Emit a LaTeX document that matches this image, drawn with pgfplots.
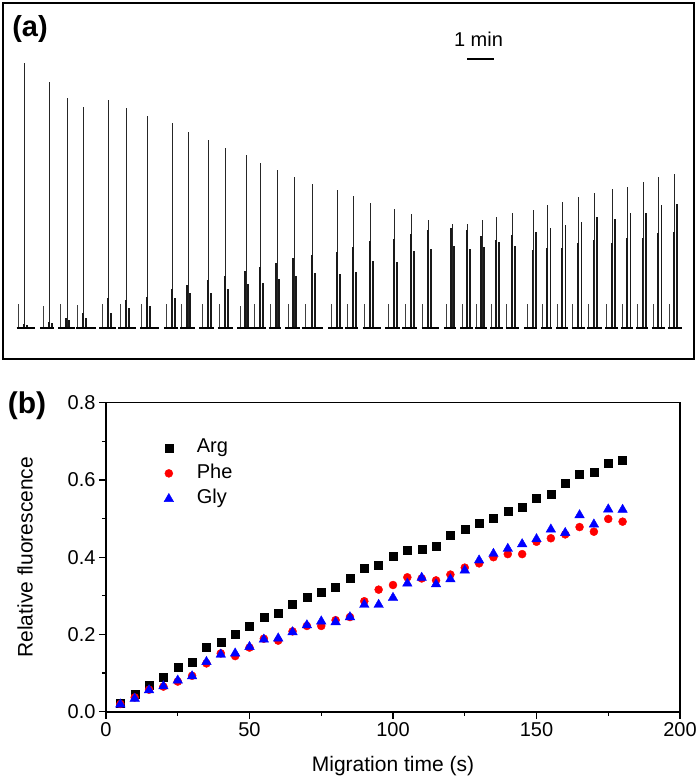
\documentclass[border=0pt]{standalone}
\usepackage{fontspec}
\setmainfont{Liberation Sans}
\usepackage{pgfplots}
\usepackage{pgfplotstable}
\pgfplotsset{compat=1.18}

% panel (a): one row per run (pixel-like units, heights above baseline)
\pgfplotstableread{
xs hs xt ht xa ha xb hb
18.7 24 24.3 265 23.6 4 26.6 3
43.0 22 49.3 246 48.6 6 51.6 5
60.7 24 67.0 230 66.3 10 69.3 8
77.7 23 83.7 221 83.0 15 86.0 10
102.7 24 108.3 228 107.6 30 110.6 15
120.7 24 126.3 220 125.6 28 128.6 20
141.7 24 147.7 212 147.0 31 150.0 22
166.3 24 172.7 205 172.0 39 175.0 30
181.7 24 188.0 196 187.3 43 190.3 35
202.0 24 208.7 188 208.0 48 211.0 35
219.7 24 225.7 180 225.0 52 228.0 39
240.3 22 246.0 173 245.3 57 248.3 44
254.3 24 260.3 165 259.6 61 262.6 45
270.7 24 277.0 158 276.3 65 279.3 49
288.0 24 294.0 151 293.3 70 296.3 52
305.0 24 312.7 144 312.0 73 315.0 55
331.0 24 337.3 138 336.6 76 339.6 54
347.7 24 353.7 132 353.0 81 356.0 56
364.3 24 370.3 125 369.6 87 372.6 67
388.3 24 394.3 119 393.6 89 396.6 66
405.3 24 411.7 114 411.0 94 414.0 77
422.7 24 428.7 108 428.0 98 431.0 79
446.7 24 452.0 104 451.3 100 454.3 82
462.3 24 467.7 104 467.0 98 470.0 79
476.7 24 482.0 108 481.3 92 484.3 81
491.3 24 496.7 111 496.0 88 499.0 86
506.7 24 512.7 115 512.0 93 515.0 82
527.7 24 533.0 118 532.5 78 535.7 96
542.3 24 547.7 123 547.2 80 550.4 100
557.3 24 562.7 126 562.2 80 565.4 103
572.7 24 578.7 131 578.2 85 581.4 106
588.7 24 594.0 135 593.5 88 596.7 111
606.7 24 612.3 139 611.8 85 615.0 109
622.3 24 627.7 141 627.2 90 630.4 115
637.3 24 643.0 146 642.5 90 645.7 115
653.0 24 658.7 151 658.2 95 661.4 123
669.0 24 674.3 154 673.8 96 677.0 124
}\runs

\pgfplotstableread{
t arg phe gly
5 0.022 0.020 0.019
10 0.045 0.037 0.034
15 0.068 0.057 0.056
20 0.090 0.065 0.066
25 0.115 0.078 0.081
30 0.129 0.093 0.092
35 0.167 0.125 0.129
40 0.180 0.151 0.148
45 0.200 0.144 0.151
50 0.222 0.166 0.168
55 0.245 0.189 0.187
60 0.254 0.184 0.190
65 0.278 0.208 0.206
70 0.297 0.222 0.224
75 0.310 0.222 0.234
80 0.322 0.237 0.232
85 0.346 0.245 0.245
90 0.372 0.286 0.277
95 0.378 0.316 0.277
100 0.402 0.328 0.295
105 0.417 0.348 0.332
110 0.420 0.345 0.347
115 0.429 0.340 0.330
120 0.456 0.355 0.343
125 0.472 0.373 0.366
130 0.488 0.384 0.392
135 0.502 0.400 0.409
140 0.519 0.408 0.422
145 0.529 0.408 0.434
150 0.553 0.440 0.447
155 0.562 0.449 0.472
160 0.591 0.459 0.463
165 0.616 0.478 0.509
170 0.620 0.466 0.485
175 0.644 0.499 0.524
180 0.651 0.492 0.523
}\fluo

\begin{document}
\begin{tikzpicture}
\useasboundingbox (0,0) rectangle (700bp,779bp);

% ---------------- panel (a)
\begin{axis}[
  at={(3bp,420bp)}, anchor=south west, scale only axis,
  width=691bp, height=356bp,
  xmin=3, xmax=694, ymin=-31, ymax=325,
  xtick=\empty, ytick=\empty,
  axis line style={line width=1.8bp},
]
\addplot[ycomb, no marks, line width=0.9bp, black!75] table[x=xs, y=hs] {\runs};
\addplot[ycomb, no marks, line width=1.0bp, black!85] table[x=xt, y=ht] {\runs};
\addplot[ycomb, no marks, line width=1.8bp, black!90] table[x=xa, y=ha] {\runs};
\addplot[ycomb, no marks, line width=1.8bp, black!90] table[x=xb, y=hb] {\runs};
\addplot[no marks, line width=2.6bp, black, unbounded coords=jump] coordinates {
(16.7,0)(35,0)(36,nan)
(40,0)(54.3,0)(55,nan)
(58.3,0)(75,0)(76,nan)
(76,0)(96,0)(97,nan)
(99.3,0)(116,0)(117,nan)
(118.3,0)(136,0)(137,nan)
(140,0)(159.3,0)(160,nan)
(164,0)(178.3,0)(179,nan)
(180,0)(195,0)(196,nan)
(199.3,0)(214.3,0)(215,nan)
(217.7,0)(233.3,0)(234,nan)
(237.3,0)(255.3,0)(256,nan)
(252.3,0)(265.7,0)(266,nan)
(268.7,0)(281.3,0)(282,nan)
(285,0)(300,0)(301,nan)
(301.7,0)(323.3,0)(324,nan)
(328,0)(342.7,0)(343,nan)
(345,0)(358.3,0)(359,nan)
(362.7,0)(381,0)(382,nan)
(385,0)(400,0)(401,nan)
(402.3,0)(417.3,0)(418,nan)
(421.7,0)(439.3,0)(440,nan)
(444,0)(456,0)(457,nan)
(460,0)(472.7,0)(473,nan)
(475,0)(486.7,0)(487,nan)
(490,0)(502.7,0)(503,nan)
(505.7,0)(519.3,0)(520,nan)
(524,0)(537.3,0)(538,nan)
(540.7,0)(552.3,0)(553,nan)
(556,0)(568.3,0)(569,nan)
(571.7,0)(585,0)(586,nan)
(587.3,0)(601.7,0)(602,nan)
(605,0)(617.7,0)(618,nan)
(620.7,0)(633.3,0)(634,nan)
(636,0)(648.3,0)(649,nan)
(651.7,0)(665,0)(666,nan)
(667.7,0)(682.3,0)
};
% 1 min scale bar
\addplot[no marks, line width=2bp, black] coordinates {(467,269) (494,269)};
\end{axis}

\node[font=\bfseries\fontsize{29bp}{32bp}\selectfont] at (30bp,750bp) {(a)};
\node[font=\fontsize{20bp}{24bp}\selectfont] at (478.5bp,740bp) {1 min};

% ---------------- panel (b)
\begin{axis}[
  at={(106bp,67.3bp)}, anchor=south west, scale only axis,
  width=574bp, height=309bp,
  xmin=0, xmax=200, ymin=0, ymax=0.8,
  xtick={0,50,100,150,200}, minor xtick={25,75,125,175},
  ytick={0,0.2,0.4,0.6,0.8}, minor ytick={0.1,0.3,0.5,0.7},
  xtick pos=left, ytick pos=left,
  tick align=outside,
  major tick length=7bp, minor tick length=4bp,
  every tick/.style={black, line width=1.2bp},
  axis line style={line width=1.6bp},
  /pgf/number format/assume math mode=true,
  ticklabel style={font=\fontsize{20bp}{24bp}\selectfont},
  yticklabel style={/pgf/number format/.cd, fixed, fixed zerofill, precision=1},
  xlabel={Migration time (s)}, ylabel={Relative fluorescence},
  label style={font=\fontsize{21bp}{25bp}\selectfont},
  xlabel style={at={(axis description cs:0.5,-0.175)}, anchor=center},
  ylabel style={at={(axis description cs:-0.141,0.5)}, anchor=center},
  legend style={draw=none, fill=none, at={(axis description cs:0.09,0.89)}, anchor=north west,
    font=\fontsize{20bp}{24bp}\selectfont, row sep=7.5bp,
    nodes={inner sep=0pt, text height=14bp, text depth=4bp}},
  legend cell align=left,
  legend image code/.code={\path[draw=none, fill=none] (0bp,-4bp) rectangle (36bp,4bp); \draw[#1] plot coordinates {(8bp,0bp)};},
]
\addplot[only marks, mark=square*, mark size=4bp, black] table[x=t, y=arg] {\fluo};
\addlegendentry{Arg}
\addplot[only marks, mark=*, mark size=4bp, red, mark options={fill=red, draw=red}] table[x=t, y=phe] {\fluo};
\addlegendentry{Phe}
\addplot[only marks, mark=triangle*, mark size=5.5bp, blue, mark options={fill=blue, draw=blue}] table[x=t, y=gly] {\fluo};
\addlegendentry{Gly}
\end{axis}

\node[font=\bfseries\fontsize{30bp}{33bp}\selectfont] at (27bp,373bp) {(b)};
\end{tikzpicture}
\end{document}
